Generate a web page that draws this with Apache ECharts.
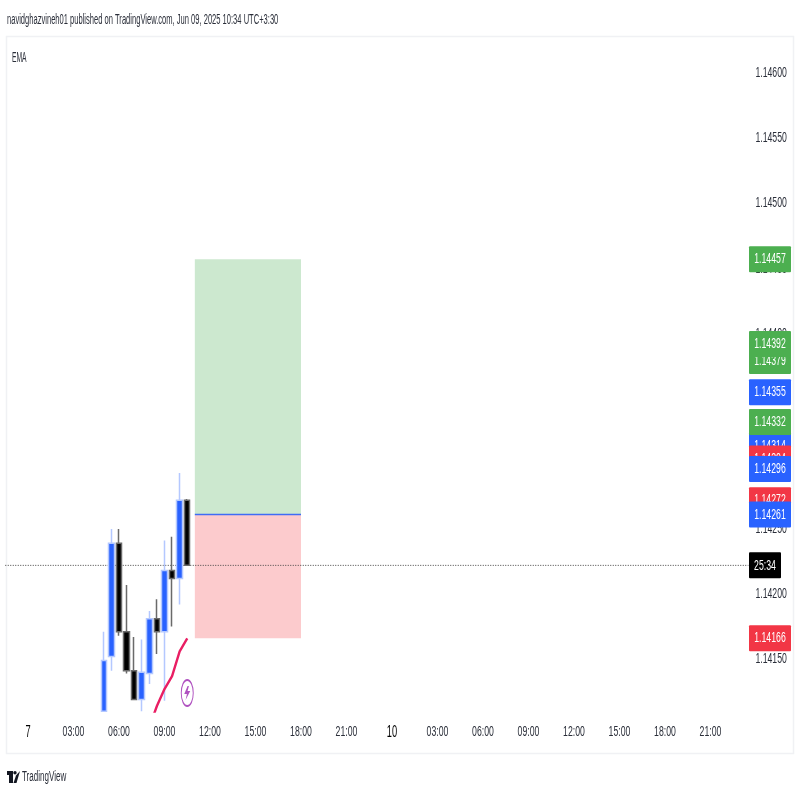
<!DOCTYPE html>
<html>
<head>
<meta charset="utf-8">
<style>html,body{margin:0;padding:0;background:#fff}#c{width:800px;height:800px}</style>
<script src="https://cdn.jsdelivr.net/npm/echarts@6/dist/echarts.min.js"></script>
</head>
<body>
<div id="c"></div>
<script>
// ---- data ----
const headerText = 'navidghazvineh01 published on TradingView.com, Jun 09, 2025 10:34 UTC+3:30';
const indicatorText = 'EMA';
const brandText = 'TradingView';

const categories = ['22:30','23:00','23:30',
  '7','00:30','01:00','01:30','02:00','02:30','03:00','03:30','04:00','04:30','05:00','05:30',
  '06:00','06:30','07:00','07:30','08:00','08:30','09:00','09:30','10:00','10:30','11:00','11:30',
  '12:00','12:30','13:00','13:30','14:00','14:30','15:00','15:30','16:00','16:30','17:00','17:30',
  '18:00','18:30','19:00','19:30','20:00','20:30','21:00','21:30','22:00','22:30','23:00','23:30',
  '10','00:30','01:00','01:30','02:00','02:30','03:00','03:30','04:00','04:30','05:00','05:30',
  '06:00','06:30','07:00','07:30','08:00','08:30','09:00','09:30','10:00','10:30','11:00','11:30',
  '12:00','12:30','13:00','13:30','14:00','14:30','15:00','15:30','16:00','16:30','17:00','17:30',
  '18:00','18:30','19:00','19:30','20:00','20:30','21:00','21:30','22:00','22:30','23:00','23:30'];
const firstCandle = 13;
// open, close, low, high
const candles = [
  [1.14110,1.14149,1.14110,1.14171],
  [1.14152,1.14239,1.14141,1.14250],
  [1.14239,1.14171,1.14168,1.14250],
  [1.14171,1.14141,1.14139,1.14207],
  [1.14141,1.14119,1.14119,1.14167],
  [1.14119,1.14140,1.14110,1.14165],
  [1.14139,1.14181,1.14131,1.14187],
  [1.14181,1.14171,1.14154,1.14196],
  [1.14171,1.14218,1.14118,1.14241],
  [1.14218,1.14212,1.14175,1.14244],
  [1.14212,1.14272,1.14192,1.14293],
  [1.14272,1.14222,1.14222,1.14273]
];
const emaStart = 19;
const emaValues = [1.14098,1.14114,1.14127,1.14137,1.14156,1.14166];
const priceTicks = [1.1415,1.142,1.1425,1.143,1.1435,1.144,1.1445,1.145,1.1455,1.146];
const positionStart = 25, positionEnd = 39;
const targetPrice = 1.14457, entryPrice = 1.14261, stopPrice = 1.14166;
const currentPrice = 1.14222;
const signalIndex = 24, signalPrice = 1.14124;
const tagPrices = [1.14457,1.14379,1.14392,1.14355,1.14314,1.14304,1.14332,1.14296,1.14272,1.14261,1.14166,1.14222];
const tagLabels = ['1.14457','1.14379','1.14392','1.14355','1.14314','1.14304','1.14332','1.14296','1.14272','1.14261','1.14166','25:34'];
const tagKinds  = ['g','g','g','b','b','r','g','b','r','b','r','k'];

// ---- styles ----
const FONT = '"Liberation Sans",Arial,sans-serif';
const INK = '#2a2e39';
const NARROW = 0.58;
const palette = {g:'#4caf50', b:'#2962ff', r:'#f23645', k:'#000000'};
const yMin = 1.141098, yMax = 1.146269;

const chart = echarts.init(document.getElementById('c'), null, {renderer:'canvas'});
chart.setOption({
  animation:false,
  backgroundColor:'#ffffff',
  grid:[
    {left:5.25, right:51.6, top:38, height:673.5, outerBoundsMode:'none'},
    {left:749, width:42, top:38, height:673.5, outerBoundsMode:'none'}
  ],
  xAxis:[
    {type:'category', gridIndex:0, data:categories, boundaryGap:false,
     axisLine:{show:false}, axisTick:{show:false}, splitLine:{show:false},
     axisLabel:{
       interval:(i)=> (i-3)%6===0, hideOverlap:false,
       margin:13, fontFamily:FONT, fontSize:15, color:INK,
       formatter:(v)=> v.length<3 ? '{d|'+v+'}' : v,
       rich:{d:{fontFamily:FONT,fontSize:16,color:'#000000'}}
     }},
    {type:'value', gridIndex:1, min:0, max:1, show:false}
  ],
  yAxis:[
    {type:'value', gridIndex:0, position:'right', min:yMin, max:yMax,
     axisLine:{show:false}, axisTick:{show:false}, splitLine:{show:false},
     axisLabel:{customValues:priceTicks, margin:7, fontFamily:FONT, fontSize:15, color:INK,
       formatter:(v)=>v.toFixed(5)}},
    {type:'value', gridIndex:1, min:yMin, max:yMax, show:false}
  ],
  series:[
    {type:'candlestick', xAxisIndex:0, yAxisIndex:0, barWidth:6, z:3,
     data:categories.map((c,i)=> candles[i-firstCandle] || ['-','-','-','-']),
     itemStyle:{color:'#2962ff', color0:'#000000', borderColor:'#b4c8ff', borderColor0:'#6a6a6a', borderWidth:1.5},
     markArea:{silent:true, z:1, data:[
       [{xAxis:positionStart,yAxis:targetPrice,itemStyle:{color:'#cce8cf'}},{xAxis:positionEnd,yAxis:entryPrice}],
       [{xAxis:positionStart,yAxis:entryPrice,itemStyle:{color:'#fccbcd'}},{xAxis:positionEnd,yAxis:stopPrice}]
     ]}
    },
    {type:'line', xAxisIndex:0, yAxisIndex:0, z:2, symbol:'none', silent:true,
     data:[[0,currentPrice],[categories.length-1,currentPrice]],
     lineStyle:{type:[1,1.5],color:'#444444',width:1}},
    {type:'line', xAxisIndex:0, yAxisIndex:0, z:3, symbol:'none', silent:true,
     data:[[positionStart,entryPrice],[positionEnd,entryPrice]],
     lineStyle:{color:'#3f6cf5',width:1.5}},
    {type:'line', xAxisIndex:0, yAxisIndex:0, z:4, symbol:'none',
     data:emaValues.map((v,i)=>[emaStart+i,v]),
     lineStyle:{color:'#e91e63',width:2.4}},
    {type:'scatter', xAxisIndex:0, yAxisIndex:0, z:5, silent:true,
     data:[[signalIndex,signalPrice]], symbol:'circle', symbolSize:[12,26],
     itemStyle:{color:'#ffffff',borderColor:'#9c27b0',borderWidth:1.4}},
    {type:'scatter', xAxisIndex:0, yAxisIndex:0, z:6, silent:true,
     data:[[signalIndex,signalPrice]],
     symbol:'path://M6 0 L1 8 H5 L3 14 L10 5 H6 L8 0 Z', symbolSize:[6,14],
     itemStyle:{color:'#9c27b0'}},
    {type:'custom', xAxisIndex:1, yAxisIndex:1, z:10, silent:true, clip:false,
     data:tagPrices.map((p,i)=>[0.5,p,i]),
     encode:{x:0,y:1},
     renderItem:(params,api)=>{
       const i = api.value(2);
       const pt = api.coord([0.5,api.value(1)]);
       const timer = tagKinds[i]==='k';
       const w = timer?32:42, h=26, x0=749;
       return {type:'group',children:[
         {type:'rect',shape:{x:x0,y:pt[1]-h/2,width:w,height:h,r:1},style:{fill:palette[tagKinds[i]]}},
         {type:'text',x:x0+w/2,y:pt[1],scaleX:NARROW,
          style:{text:tagLabels[i],fill:'#ffffff',font:'15px '+FONT,align:'center',verticalAlign:'middle'}}
       ]};
     }}
  ],
  graphic:[
    {type:'rect',z:-1,silent:true,shape:{x:6.5,y:36.5,width:787,height:717},style:{fill:'#ffffff',stroke:'#f0f1f4',lineWidth:1.5}},
    {type:'text',x:7,y:20,scaleX:0.54,silent:true,style:{text:headerText,fill:'#2a2e39',font:'14px '+FONT,verticalAlign:'middle'}},
    {type:'text',x:12,y:58,scaleX:0.48,silent:true,style:{text:indicatorText,fill:'#2a2e39',font:'14px '+FONT,verticalAlign:'middle'}},
    {type:'polygon',silent:true,shape:{points:[[7,771],[13,771],[13,783],[9,783],[9,775],[7,775]]},style:{fill:'#131722'}},
    {type:'circle',silent:true,shape:{cx:15,cy:772.7,r:1.7},style:{fill:'#131722'}},
    {type:'polygon',silent:true,shape:{points:[[16,775.5],[20,771],[16.5,783],[13.5,783]]},style:{fill:'#131722'}},
    {type:'text',x:22,y:777.5,scaleX:0.575,silent:true,style:{text:brandText,fill:'#2a2e39',font:'14px '+FONT,verticalAlign:'middle'}}
  ]
});
// The reference's type is condensed: narrow the axis labels to the same width.
const axisWords = new Set(categories.concat(priceTicks.map(v=>v.toFixed(5))));
chart.getZr().storage.getDisplayList(true).forEach(el=>{
  if (el.type==='text' || (el.style && typeof el.style.text==='string')) {
    const t = el.style.text;
    if (axisWords.has(t) || (el.style.rich && /^\{d\|/.test(t))) { el.scaleX = NARROW; el.markRedraw(); }
  }
});
</script>
</body>
</html>
